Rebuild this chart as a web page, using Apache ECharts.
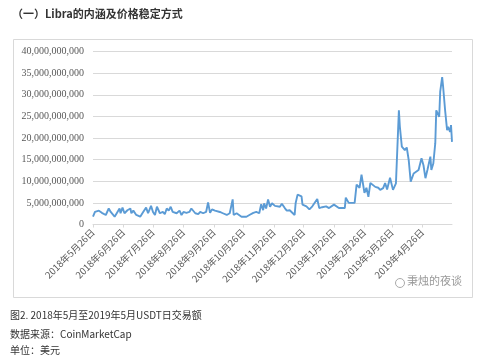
<!DOCTYPE html>
<html>
<head>
<meta charset="utf-8">
<script src="https://cdn.jsdelivr.net/npm/echarts@6/dist/echarts.min.js"></script>
<style>html,body{margin:0;padding:0;background:#fff;}#c{width:500px;height:361px;}</style>
</head>
<body>
<div id="c"></div>
<script>
const dates = [
'2018-05-26','2018-05-28','2018-05-30','2018-06-01','2018-06-04','2018-06-06','2018-06-08','2018-06-11','2018-06-13','2018-06-15',
'2018-06-17','2018-06-19','2018-06-22','2018-06-23','2018-06-25','2018-06-27','2018-06-30','2018-07-03','2018-07-04','2018-07-06',
'2018-07-09','2018-07-11','2018-07-13','2018-07-16','2018-07-19','2018-07-21','2018-07-24','2018-07-26','2018-07-28','2018-07-30',
'2018-08-02','2018-08-05','2018-08-07','2018-08-09','2018-08-11','2018-08-13','2018-08-15','2018-08-17','2018-08-19','2018-08-22',
'2018-08-24','2018-08-26','2018-08-29','2018-09-01','2018-09-03','2018-09-05','2018-09-07','2018-09-10','2018-09-12','2018-09-15',
'2018-09-18','2018-09-20','2018-09-22','2018-09-24','2018-09-27','2018-09-29','2018-10-02','2018-10-05','2018-10-07','2018-10-09',
'2018-10-12','2018-10-14','2018-10-15','2018-10-16','2018-10-19','2018-10-21','2018-10-24','2018-10-26','2018-10-29','2018-11-01',
'2018-11-03','2018-11-05','2018-11-08','2018-11-11','2018-11-13','2018-11-15','2018-11-16','2018-11-18','2018-11-20','2018-11-22',
'2018-11-24','2018-11-27','2018-11-29','2018-12-02','2018-12-04','2018-12-07','2018-12-09','2018-12-12','2018-12-14','2018-12-17',
'2018-12-18','2018-12-20','2018-12-24','2018-12-25','2018-12-29','2019-01-01','2019-01-04','2019-01-09','2019-01-11','2019-01-14',
'2019-01-18','2019-01-21','2019-01-26','2019-01-31','2019-02-06','2019-02-07','2019-02-10','2019-02-12','2019-02-16','2019-02-18',
'2019-02-21','2019-02-23','2019-02-26','2019-02-28','2019-03-02','2019-03-04','2019-03-09','2019-03-12','2019-03-14','2019-03-17',
'2019-03-19','2019-03-21','2019-03-24','2019-03-27','2019-03-30','2019-04-02','2019-04-03','2019-04-05','2019-04-08','2019-04-10',
'2019-04-12','2019-04-14','2019-04-17','2019-04-19','2019-04-22','2019-04-25','2019-04-27','2019-04-29','2019-05-01','2019-05-04',
'2019-05-05','2019-05-07','2019-05-09','2019-05-10','2019-05-13','2019-05-14','2019-05-16','2019-05-17','2019-05-19','2019-05-21',
'2019-05-22','2019-05-24','2019-05-25','2019-05-26'
];
const volumeBillions = [
1.8,2.9,2.6,3.2,2.7,2.9,2.2,3.7,2.9,2.6,
1.8,2.2,3.7,2.6,3.9,2.6,3.3,3.7,2.6,3.2,
2.2,2.6,1.8,2.9,3.9,2.6,4.3,2.9,2.2,4.1,
2.6,2.9,2.4,3.7,3.2,4.1,2.9,3.3,2.6,3.2,
2.2,2.9,2.7,2.9,3.7,4.1,2.6,2.4,2.9,2.6,
2.9,5.1,2.7,3.5,3.2,3.3,2.9,2.6,2.2,2.2,
2.6,2.2,5.8,2.2,2.6,2.2,1.8,1.6,1.8,2.2,
2.6,2.7,2.9,2.6,4.7,3.3,4.9,3.7,5.8,4.1,
4.9,4.3,4.5,4.1,4.8,3.8,3.2,3.3,2.9,2.2,
4.9,6.9,6.5,4.6,4.2,3.5,4.2,5.9,3.8,4.0,
4.2,3.8,4.6,3.8,3.8,6.2,5.0,5.2,5.0,9.2,
8.5,11.5,7.3,8.5,6.4,9.6,8.7,8.5,8.0,8.4,
9.6,8.1,10.8,8.0,9.5,26.4,22.6,18.0,17.2,17.8,
14.9,9.9,11.8,11.4,12.6,15.3,13.7,10.7,12.6,15.7,
12.6,14.1,18.8,26.4,24.9,30.7,34.1,31.8,26.4,21.8,
22.6,21.4,23.0,19.1
];
const startDate = '2018-05-26';
const endDate = '2019-05-26';
const tickDates = ['2018-05-26','2018-06-26','2018-07-26','2018-08-26','2018-09-26','2018-10-26',
  '2018-11-26','2018-12-26','2019-01-26','2019-02-26','2019-03-26','2019-04-26'];
const yTicks = [0,5e9,10e9,15e9,20e9,25e9,30e9,35e9,40e9];

const DAY = 86400000;
function utc(s){const p=s.split('-').map(Number);return Date.UTC(p[0],p[1]-1,p[2]);}
function dayOffset(s){return Math.round((utc(s)-utc(startDate))/DAY);}
function offsetLabel(v){const d=new Date(utc(startDate)+Math.round(v)*DAY);
  return d.getUTCFullYear()+'年'+(d.getUTCMonth()+1)+'月'+d.getUTCDate()+'日';}
const seriesData = dates.map((d,i)=>[dayOffset(d), volumeBillions[i]*1e9]);
const tickOffsets = tickDates.map(dayOffset);

const chart = echarts.init(document.getElementById('c'), null, {renderer:'canvas'});
chart.setOption({
  animation:false,
  backgroundColor:'#ffffff',
  grid:{left:93,right:48,top:51.5,bottom:136.5,containLabel:false,outerBoundsMode:'none'},
  xAxis:{
    type:'value',
    min:0, max:dayOffset(endDate),
    axisLine:{show:true,lineStyle:{color:'#d9d9d9',width:1}},
    axisTick:{show:true,customValues:tickOffsets,length:3,lineStyle:{color:'#d9d9d9'}},
    splitLine:{show:false},
    axisLabel:{
      customValues:tickOffsets,
      rotate:45, margin:6,
      fontSize:9.5, color:'#595959', fontFamily:'Noto Sans CJK SC',
      formatter:offsetLabel
    }
  },
  yAxis:{
    type:'value', min:yTicks[0], max:yTicks[yTicks.length-1], interval:yTicks[1]-yTicks[0],
    axisLine:{show:false}, axisTick:{show:false},
    splitLine:{lineStyle:{color:'#d9d9d9',width:1}},
    axisLabel:{margin:9,fontSize:10,color:'#595959',fontFamily:'Liberation Serif',
      formatter:function(v){return v.toLocaleString('en-US');}}
  },
  series:[{
    type:'line', data:seriesData, showSymbol:false, symbol:'none',
    lineStyle:{color:'#5b9bd5',width:1.9}, smooth:false
  }],
  graphic:[
    {type:'rect',shape:{x:13.5,y:39.5,width:459,height:258},style:{fill:'none',stroke:'#d9d9d9',lineWidth:1},z:-1},
    {type:'text',left:12,top:8,style:{text:'（一）Libra的内涵及价格稳定方式',font:'bold 11px "Noto Sans CJK SC"',fill:'#333'}},
    {type:'text',left:10,top:310,style:{text:'图2. 2018年5月至2019年5月USDT日交易额',font:'10px "Noto Sans CJK SC"',fill:'#333'}},
    {type:'text',left:10,top:329,style:{text:'数据来源：CoinMarketCap',font:'10px "Noto Sans CJK SC"',fill:'#333'}},
    {type:'text',left:10,top:345,style:{text:'单位：美元',font:'10px "Noto Sans CJK SC"',fill:'#333'}},
    {type:'circle',shape:{cx:400,cy:283,r:4.5},style:{fill:'none',stroke:'#aaa',lineWidth:1}},
    {type:'text',left:407,top:275,style:{text:'秉烛的夜谈',font:'11px "Noto Sans CJK SC"',fill:'#999'}}
  ]
});
</script>
</body>
</html>
